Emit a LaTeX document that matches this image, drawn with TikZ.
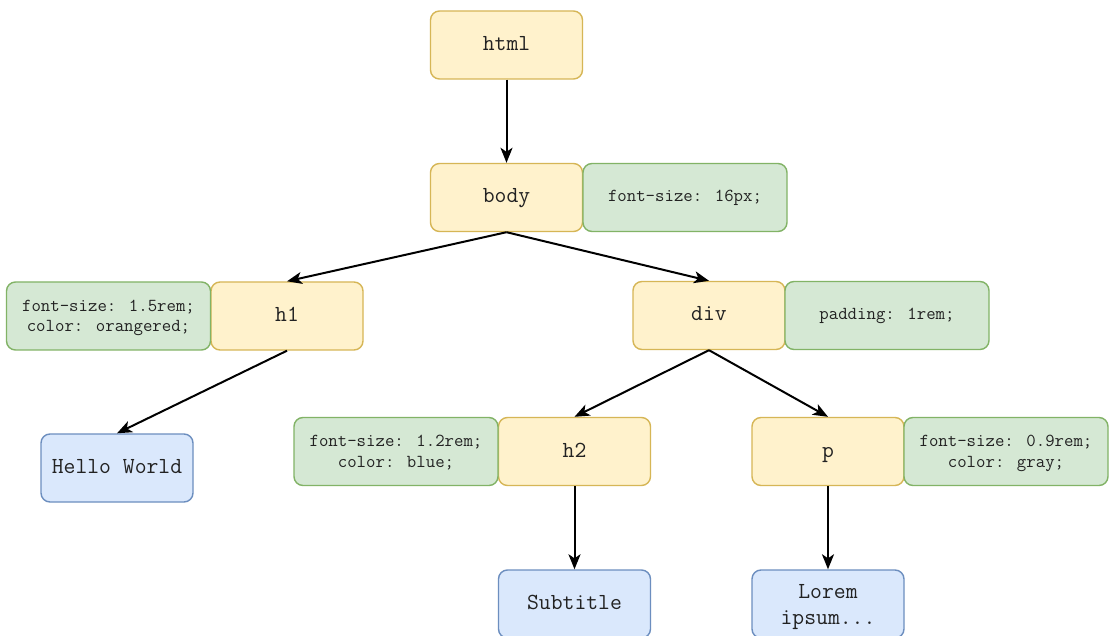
\documentclass[tikz,border=0pt]{standalone}
\usepackage{fontspec}
\usetikzlibrary{arrows.meta}
\definecolor{ylfill}{HTML}{FFF2CC}
\definecolor{yldraw}{HTML}{D6B656}
\definecolor{grfill}{HTML}{D5E8D4}
\definecolor{grdraw}{HTML}{82B366}
\definecolor{blfill}{HTML}{DAE8FC}
\definecolor{bldraw}{HTML}{6C8EBF}
\definecolor{txt}{HTML}{222222}
\tikzset{
  base/.style={rectangle, rounded corners=9pt, line width=1.4pt, inner sep=0pt,
    minimum height=68pt, text=txt, align=center},
  oneline/.style={text height=1.1em, text depth=0pt},
  tag/.style={base, oneline, fill=ylfill, draw=yldraw, minimum width=152pt,
    font=\ttfamily\fontsize{23}{27}\selectfont},
  css/.style={base, fill=grfill, draw=grdraw, minimum width=204pt,
    font=\ttfamily\fontsize{18.3}{20.5}\selectfont},
  csstwo/.style={css, text depth=0pt},
  txtbox/.style={base, fill=blfill, draw=bldraw, minimum width=152pt,
    font=\ttfamily\fontsize{23}{26}\selectfont},
  conn/.style={-{Stealth[length=15pt,width=12pt,inset=4pt]}, line width=2pt, black}
}
\begin{document}
\begin{tikzpicture}[x=1pt,y=-1pt]
\clip (0,0) rectangle (1109,636);
\fill[white] (0,0) rectangle (1109,636);
\node[tag] (html) at (506.5,45) {html};
\node[tag] (body) at (506.5,197.5) {body};
\node[css] (bodycss) at (685,197.5) {font-size: 16px;};
\node[tag] (h1) at (287,316) {h1};
\node[csstwo] (h1css) at (108.5,316) {font-size: 1.5rem;\\color: orangered;};
\node[tag] (div) at (709,315.5) {div};
\node[css] (divcss) at (887,315.5) {padding: 1rem;};
\node[txtbox, oneline] (hello) at (117,468) {Hello World};
\node[tag] (h2) at (574.5,451.5) {h2};
\node[csstwo] (h2css) at (396,451.5) {font-size: 1.2rem;\\color: blue;};
\node[tag] (p) at (828,451.5) {p};
\node[csstwo] (pcss) at (1006,451.5) {font-size: 0.9rem;\\color: gray;};
\node[txtbox, oneline] (sub) at (574.5,604) {Subtitle};
\node[txtbox, text depth=-2pt] (lorem) at (828,604) {Lorem\\ipsum...};
\draw[conn] (html.south) -- (body.north);
\draw[conn] (body.south) -- (h1.north);
\draw[conn] (body.south) -- (div.north);
\draw[conn] (h1.south) -- (hello.north);
\draw[conn] (div.south) -- (h2.north);
\draw[conn] (div.south) -- (p.north);
\draw[conn] (h2.south) -- (sub.north);
\draw[conn] (p.south) -- (lorem.north);
\end{tikzpicture}
\end{document}
